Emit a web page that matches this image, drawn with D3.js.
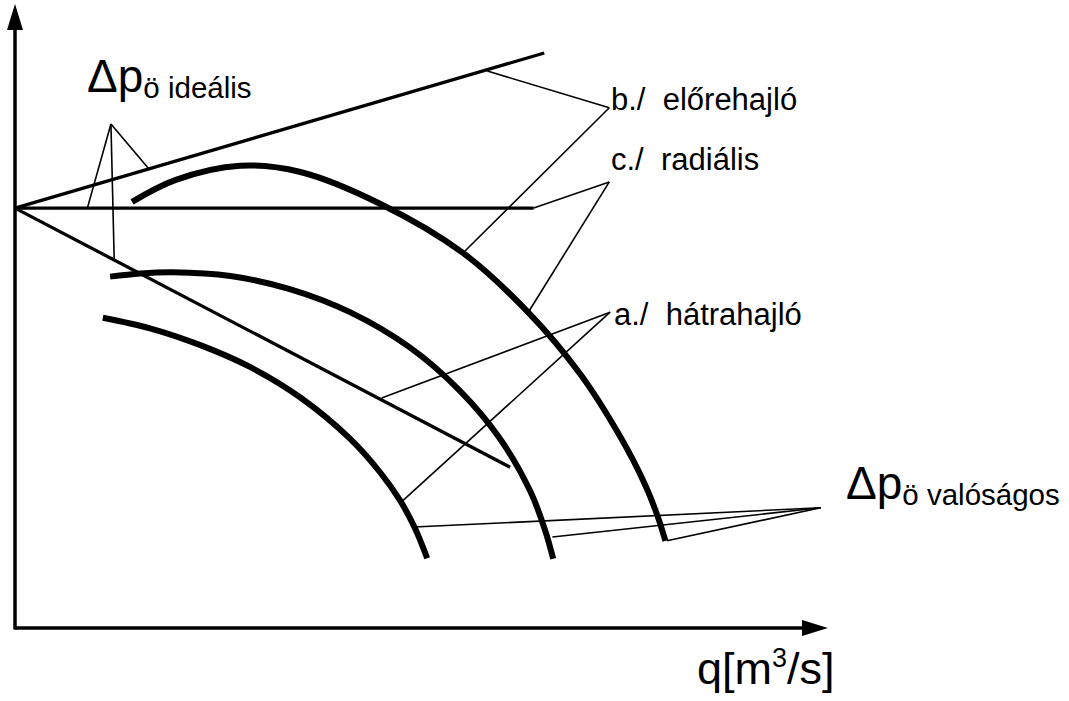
<!DOCTYPE html>
<html>
<head>
<meta charset="utf-8">
<script src="https://cdn.jsdelivr.net/npm/d3@7"></script>
<style>
  body { margin: 0; background: #fff; }
  text { font-family: "Liberation Sans", Arial, sans-serif; fill: #000; white-space: pre; }
</style>
</head>
<body>
<div id="canvas"></div>
<script>
// schematic units: q 0..100 along x axis, dp 0..100 along y axis
var idealStart = [0, 67.4];
var idealEnds = [
  {name: 'b', q: 65.1, p: 92.3},   // elorehajlo
  {name: 'c', q: 63.8, p: 67.4},   // radialis
  {name: 'a', q: 60.9, p: 25.8}    // hatrahajlo
];
var curveB = [[14.4,68.4],[19.7,71.9],[27.7,74.2],[35.1,73.2],[44.9,68.1],[55.1,60.2],[63.1,50.7],[69.5,40.8],[74.4,30.8],[77.5,23.0],[79.0,18.1],[80.0,14.0]];
var curveC = [[11.7,56.4],[15.4,56.9],[19.4,57.1],[26.5,56.5],[33.8,54.4],[41.2,50.7],[48.6,45.0],[54.7,38.1],[59.7,30.3],[63.4,21.9],[65.2,15.7],[66.2,11.1]];
var curveA = [[10.8,49.8],[16.6,48.1],[22.8,45.4],[28.9,41.9],[35.1,37.0],[41.2,30.4],[44.9,25.0],[47.4,20.4],[49.2,16.0],[50.7,11.2]];
//leader lines: apex -> targets
var leaders = [
  {apex: [11.8,80.9], to: [[8.9,67.4],[16.4,73.8],[12.2,59.2]]},
  {apex: [73.1,83.5], to: [[58.1,89.4],[55.1,60.2]]},
  {apex: [73.1,71.6], to: [[63.8,67.4],[63.1,50.6]]},
  {apex: [73.2,50.7], to: [[45.1,36.9],[47.5,20.2]]},
  {apex: [99.1,19.3], to: [[49.1,16.2],[66.1,14.6],[80.2,14.0]]}
];
var labels = [
  {text: 'b./  el\u0151rehajl\u00f3', x: 611, y: 110},
  {text: 'c./  radi\u00e1lis', x: 611, y: 170},
  {text: 'a./  h\u00e1trahajl\u00f3', x: 614, y: 325}
];

var width = 1069, height = 701;
var svg = d3.select('#canvas').append('svg')
  .attr('width', width).attr('height', height);

var x = d3.scaleLinear().domain([0, 100]).range([15, 828]);
var y = d3.scaleLinear().domain([0, 100]).range([628, 5]);

//axes
svg.append('line')
  .attr('x1', x(0)).attr('y1', y(0)).attr('x2', x(97)).attr('y2', y(0))
  .attr('stroke', '#000').attr('stroke-width', 3.5);
svg.append('line')
  .attr('x1', x(0)).attr('y1', y(0) + 1.5).attr('x2', x(0)).attr('y2', y(96))
  .attr('stroke', '#000').attr('stroke-width', 3.5);
//arrow heads
svg.append('path')
  .attr('d', 'M' + x(100) + ',' + y(0) + 'L' + (x(100) - 26) + ',' + (y(0) - 8) + 'L' + (x(100) - 26) + ',' + (y(0) + 8) + 'Z')
  .attr('fill', '#000');
svg.append('path')
  .attr('d', 'M' + x(0) + ',' + (y(100) - 1) + 'L' + (x(0) - 8) + ',' + (y(100) + 25) + 'L' + (x(0) + 8) + ',' + (y(100) + 25) + 'Z')
  .attr('fill', '#000');

var line = d3.line().x(function(d){ return x(d[0]); }).y(function(d){ return y(d[1]); });
var smooth = d3.line().curve(d3.curveCatmullRom.alpha(0.5))
  .x(function(d){ return x(d[0]); }).y(function(d){ return y(d[1]); });

//leader lines (thin)
leaders.forEach(function(l){
  l.to.forEach(function(t){
    svg.append('path').attr('d', line([l.apex, t]))
      .attr('fill', 'none').attr('stroke', '#000').attr('stroke-width', 1.6);
  });
});

//ideal lines
idealEnds.forEach(function(e){
  svg.append('path').attr('d', line([idealStart, [e.q, e.p]]))
    .attr('fill', 'none').attr('stroke', '#000').attr('stroke-width', 3.3);
});

//real curves
[curveB, curveC, curveA].forEach(function(c){
  svg.append('path').attr('d', smooth(c))
    .attr('fill', 'none').attr('stroke', '#000').attr('stroke-width', 6);
});

//labels
labels.forEach(function(l){
  svg.append('text').attr('x', l.x).attr('y', l.y)
    .attr('font-size', 31).text(l.text);
});

function dpLabel(xp, yp, sub){
  var t = svg.append('text').attr('x', xp).attr('y', yp);
  t.append('tspan').attr('font-size', 46).text('\u0394p');
  t.append('tspan').attr('font-size', 29.5).attr('dy', 6).text(sub);
}
dpLabel(87, 92, '\u00f6 ide\u00e1lis');
dpLabel(846, 499, '\u00f6 val\u00f3s\u00e1gos');

var ql = svg.append('text').attr('x', 697).attr('y', 684).attr('font-size', 45);
ql.append('tspan').text('q[m');
ql.append('tspan').attr('font-size', 27).attr('dy', -17).text('3');
ql.append('tspan').attr('dy', 17).text('/s]');
</script>
</body>
</html>
